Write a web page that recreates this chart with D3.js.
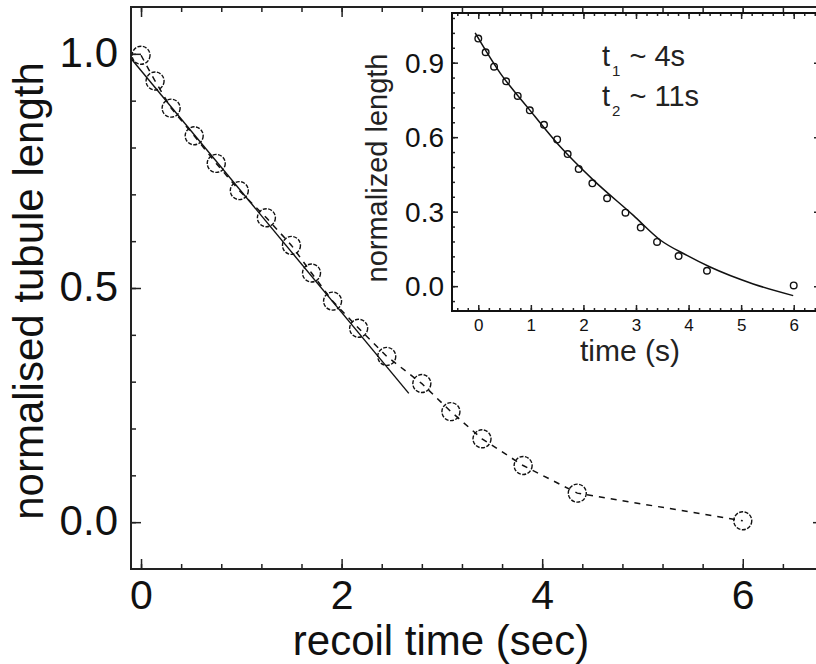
<!DOCTYPE html>
<html>
<head>
<meta charset="utf-8">
<script src="https://cdn.jsdelivr.net/npm/d3@7"></script>
<style>
  html, body { margin: 0; padding: 0; background: #fff; }
  svg { display: block; font-family: "Liberation Sans", Arial, sans-serif; }
  .axis path.domain { display: none; }
  .axis line { stroke: #222; stroke-width: 1.5; }
  .axis text { fill: #111; }
</style>
</head>
<body>
<div id="chart"></div>
<script>
// measured recoil data (same points shown in main plot and inset)
const recoilTime = [0, 0.14, 0.30, 0.53, 0.75, 0.98, 1.25, 1.50, 1.70, 1.91, 2.17, 2.45, 2.80, 3.09, 3.40, 3.81, 4.35, 6.0];
const tubuleLength = [0.997, 0.942, 0.884, 0.825, 0.766, 0.708, 0.650, 0.591, 0.532, 0.472, 0.414, 0.354, 0.296, 0.236, 0.178, 0.121, 0.062, 0.003];

// straight fit over the early part (main plot)
const linearFitTime = [-0.1, 2.67];
const linearFitLength = [0.99, 0.275];

// double exponential fit
const expFitTime = [-0.06, 0.42, 0.93, 1.56, 2.19, 2.95, 3.46, 3.97, 4.41, 5.23, 5.99];
const expFitLength = [1.02, 0.857, 0.722, 0.561, 0.427, 0.285, 0.186, 0.124, 0.077, 0.009, -0.038];

// tick labels
const mainXTicks = [0, 2, 4, 6];
const mainYTicks = [0.0, 0.5, 1.0];
const insetXTicks = [0, 1, 2, 3, 4, 5, 6];
const insetYTicks = [0.0, 0.3, 0.6, 0.9];

const fitNotes = [
  { sub: '1', rest: ' ~ 4s' },
  { sub: '2', rest: ' ~ 11s' },
];

const W = 816, H = 664;
const MAIN = { left: 131, right: 823, top: 7, bottom: 569 };
const INSET = { left: 452, right: 820, top: 13, bottom: 311 };

const svg = d3.select('#chart').append('svg')
  .attr('width', W)
  .attr('height', H)
  .attr('viewBox', `0 0 ${W} ${H}`);

svg.append('rect').attr('width', W).attr('height', H).attr('fill', '#fff');

const points = recoilTime.map((t, i) => ({ t, v: tubuleLength[i] }));

// ---------- main plot ----------
const x = d3.scaleLinear().domain([-0.1, 6.8]).range([MAIN.left, MAIN.right]);
const y = d3.scaleLinear().domain([-0.1, 1.1]).range([MAIN.bottom, MAIN.top]);

const xMinor = d3.range(0, 6.81, 0.4).map(d => +d.toFixed(1));
const yMinor = d3.range(0, 1.01, 0.1).map(d => +d.toFixed(1));

function tickAxis(axisFn, scale, values, size, translate) {
  return svg.append('g')
    .attr('class', 'axis')
    .attr('transform', translate)
    .call(axisFn(scale).tickValues(values).tickSizeInner(size).tickSizeOuter(0).tickFormat(''));
}

// minor ticks on all four sides
tickAxis(d3.axisBottom, x, xMinor, -5, `translate(0,${MAIN.bottom})`);
tickAxis(d3.axisTop, x, xMinor, -5, `translate(0,${MAIN.top})`);
tickAxis(d3.axisLeft, y, yMinor, -5, `translate(${MAIN.left},0)`);
tickAxis(d3.axisRight, y, yMinor, -5, `translate(${MAIN.right},0)`);
// major ticks
tickAxis(d3.axisTop, x, mainXTicks, -10, `translate(0,${MAIN.top})`);
tickAxis(d3.axisRight, y, mainYTicks, -10, `translate(${MAIN.right},0)`);

const xAxisMain = svg.append('g')
  .attr('class', 'axis')
  .attr('transform', `translate(0,${MAIN.bottom})`)
  .call(d3.axisBottom(x).tickValues(mainXTicks).tickSizeInner(-10).tickSizeOuter(0).tickPadding(11).tickFormat(d3.format('d')));
xAxisMain.selectAll('text').attr('font-size', 41);

const yAxisMain = svg.append('g')
  .attr('class', 'axis')
  .attr('transform', `translate(${MAIN.left},0)`)
  .call(d3.axisLeft(y).tickValues(mainYTicks).tickSizeInner(-10).tickSizeOuter(0).tickPadding(13).tickFormat(d3.format('.1f')));
yAxisMain.selectAll('text').attr('font-size', 42).attr('dy', '0.3em');

svg.append('rect')
  .attr('x', MAIN.left).attr('y', MAIN.top)
  .attr('width', MAIN.right - MAIN.left).attr('height', MAIN.bottom - MAIN.top)
  .attr('fill', 'none').attr('stroke', '#222').attr('stroke-width', 2);

// linear fit
const linePts = linearFitTime.map((t, i) => ({ t, v: linearFitLength[i] }));
const lineMain = d3.line().x(d => x(d.t)).y(d => y(d.v));

svg.append('path')
  .datum(linePts)
  .attr('fill', 'none')
  .attr('stroke', '#111')
  .attr('stroke-width', 1.4)
  .attr('d', lineMain);

// dashed guide through the points
svg.append('path')
  .datum(points)
  .attr('fill', 'none')
  .attr('stroke', '#111')
  .attr('stroke-width', 1.5)
  .attr('stroke-dasharray', '6,6')
  .attr('d', lineMain);

svg.append('g').selectAll('circle')
  .data(points)
  .enter()
  .append('circle')
  .attr('cx', d => x(d.t))
  .attr('cy', d => y(d.v))
  .attr('r', 9)
  .attr('fill', 'none')
  .attr('stroke', '#111')
  .attr('stroke-width', 1.4)
  .attr('stroke-dasharray', '4,1.5');

svg.append('text')
  .attr('x', 441)
  .attr('y', 655)
  .attr('text-anchor', 'middle')
  .attr('font-size', 42)
  .attr('fill', '#111')
  .text('recoil time (sec)');

svg.append('text')
  .attr('transform', `translate(43,${(MAIN.top + MAIN.bottom) / 2 + 3}) rotate(-90)`)
  .attr('text-anchor', 'middle')
  .attr('font-size', 42)
  .attr('fill', '#111')
  .text('normalised tubule length');

// ---------- inset ----------
const xi = d3.scaleLinear().domain([-0.5, 6.5]).range([INSET.left, INSET.right]);
const yi = d3.scaleLinear().domain([-0.1, 1.1]).range([INSET.bottom, INSET.top]);

svg.append('rect')
  .attr('x', INSET.left).attr('y', INSET.top)
  .attr('width', INSET.right - INSET.left).attr('height', INSET.bottom - INSET.top)
  .attr('fill', '#fff');

const xiMinor = d3.range(-0.4, 6.41, 0.2).map(d => +d.toFixed(1));
const yiMinor = d3.range(-0.06, 1.09, 0.06).map(d => +d.toFixed(2));

tickAxis(d3.axisBottom, xi, xiMinor, -3, `translate(0,${INSET.bottom})`);
tickAxis(d3.axisTop, xi, xiMinor, -3, `translate(0,${INSET.top})`);
tickAxis(d3.axisLeft, yi, yiMinor, -3, `translate(${INSET.left},0)`);
tickAxis(d3.axisRight, yi, yiMinor, -3, `translate(${INSET.right},0)`);
tickAxis(d3.axisTop, xi, insetXTicks, -6, `translate(0,${INSET.top})`);
tickAxis(d3.axisRight, yi, insetYTicks, -6, `translate(${INSET.right},0)`);

const xAxisInset = svg.append('g')
  .attr('class', 'axis')
  .attr('transform', `translate(0,${INSET.bottom})`)
  .call(d3.axisBottom(xi).tickValues(insetXTicks).tickSizeInner(-6).tickSizeOuter(0).tickPadding(8).tickFormat(d3.format('d')));
xAxisInset.selectAll('text').attr('font-size', 17).attr('fill', '#222');

const yAxisInset = svg.append('g')
  .attr('class', 'axis')
  .attr('transform', `translate(${INSET.left},0)`)
  .call(d3.axisLeft(yi).tickValues(insetYTicks).tickSizeInner(-6).tickSizeOuter(0).tickPadding(8).tickFormat(d3.format('.1f')));
yAxisInset.selectAll('text').attr('font-size', 28).attr('fill', '#222').attr('dy', '0.35em');

svg.append('rect')
  .attr('x', INSET.left).attr('y', INSET.top)
  .attr('width', INSET.right - INSET.left).attr('height', INSET.bottom - INSET.top)
  .attr('fill', 'none').attr('stroke', '#111').attr('stroke-width', 2);

const fitPts = expFitTime.map((t, i) => ({ t, v: expFitLength[i] }));
svg.append('path')
  .datum(fitPts)
  .attr('fill', 'none')
  .attr('stroke', '#111')
  .attr('stroke-width', 1.5)
  .attr('d', d3.line().x(d => xi(d.t)).y(d => yi(d.v)).curve(d3.curveMonotoneX));

svg.append('g').selectAll('circle')
  .data(points)
  .enter()
  .append('circle')
  .attr('cx', d => xi(d.t))
  .attr('cy', d => yi(d.v))
  .attr('r', 3.3)
  .attr('fill', 'none')
  .attr('stroke', '#111')
  .attr('stroke-width', 1.4);

// t1 / t2 notes
const notes = svg.append('g').attr('fill', '#222');
fitNotes.forEach((n, i) => {
  const txt = notes.append('text')
    .attr('x', 602)
    .attr('y', 66 + i * 40)
    .attr('font-size', 29);
  txt.append('tspan').text('t');
  txt.append('tspan').attr('font-size', 15).attr('dx', 2).attr('dy', 10).text(n.sub);
  txt.append('tspan').attr('dx', 1).attr('dy', -10).text(n.rest);
});

svg.append('text')
  .attr('x', 630)
  .attr('y', 361)
  .attr('text-anchor', 'middle')
  .attr('font-size', 30)
  .attr('fill', '#222')
  .text('time (s)');

svg.append('text')
  .attr('transform', `translate(387,168) rotate(-90)`)
  .attr('text-anchor', 'middle')
  .attr('font-size', 29)
  .attr('fill', '#222')
  .text('normalized length');
</script>
</body>
</html>
